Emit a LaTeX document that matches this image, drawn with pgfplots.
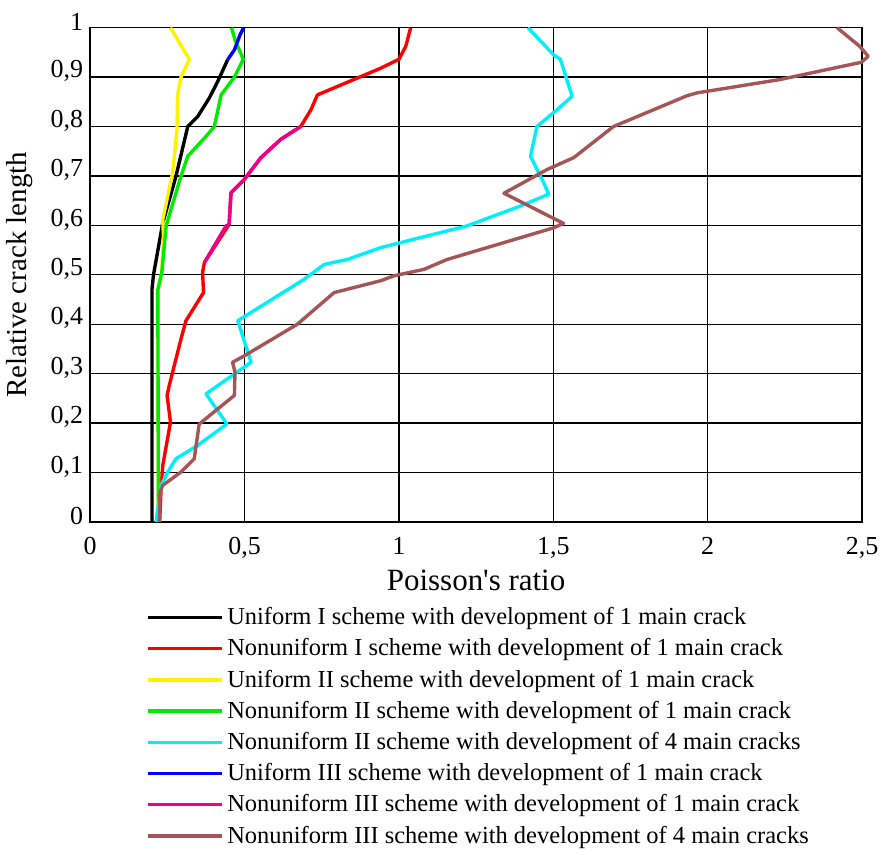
\documentclass[border=0pt]{standalone}
\usepackage{pgfplots}
\pgfplotsset{compat=1.18}
\usepackage{fontspec}
\setmainfont{Liberation Serif}
\definecolor{mybrown}{RGB}{165,85,85}
\definecolor{mygreen}{RGB}{0,235,0}
\definecolor{mycyan}{RGB}{0,240,250}
\begin{document}
\begin{tikzpicture}
\begin{axis}[
  scale only axis,
  width=386.5pt, height=247.5pt,
  xmin=0, xmax=2.5, ymin=0, ymax=1,
  xtick={0,0.5,1,1.5,2,2.5},
  ytick={0,0.1,0.2,0.3,0.4,0.5,0.6,0.7,0.8,0.9,1},
  grid=major,
  grid style={black, line width=0.6pt},
  axis line style={black, line width=0.8pt},
  major tick length=0pt,
  clip=false,
  /pgf/number format/use comma,
  /pgf/number format/assume math mode=true,
  tick label style={font=\fontsize{13}{15}\selectfont},
  yticklabel style={yshift=3pt},
  xticklabel style={yshift=-4pt},
  xlabel={Poisson\textquotesingle s ratio},
  ylabel={Relative crack length},
  xlabel style={font=\fontsize{15.5}{17}\selectfont, yshift=1pt},
  ylabel style={font=\fontsize{14.5}{16}\selectfont, yshift=2pt},
  legend cell align=left,
  legend style={draw=none, fill=none, at={(rel axis cs:0.064,-0.156)}, anchor=north west,
    font=\fontsize{12.25}{14}\selectfont, row sep=1.5pt},
  legend image code/.code={\draw[#1, line width=1.7pt] (0pt,0pt) -- (32pt,0pt); \path (0pt,0pt) -- (37pt,0pt);},
  every axis plot/.append style={line width=1.7pt, line join=round},
]
\addplot[black] coordinates {(0.2,0) (0.2,0.47) (0.205,0.5) (0.235,0.605) (0.278,0.70) (0.316,0.80) (0.348,0.82) (0.386,0.858) (0.413,0.891) (0.445,0.935)};
\addlegendentry{Uniform I scheme with development of 1 main crack}
\addplot[red] coordinates {(0.225,0) (0.23,0.074) (0.235,0.114) (0.26,0.202) (0.249,0.256) (0.256,0.276) (0.294,0.37) (0.31,0.407) (0.367,0.464) (0.364,0.505) (0.37,0.525) (0.45,0.602) (0.456,0.666) (0.499,0.693) (0.553,0.737) (0.617,0.774) (0.682,0.80) (0.715,0.834) (0.736,0.864) (0.941,0.918) (1.0,0.936) (1.022,0.962) (1.038,1.0)};
\addlegendentry{Nonuniform I scheme with development of 1 main crack}
\addplot[yellow] coordinates {(0.221,0) (0.219,0.47) (0.232,0.505) (0.237,0.58) (0.235,0.612) (0.267,0.706) (0.281,0.794) (0.283,0.864) (0.294,0.90) (0.321,0.936) (0.26,1.0)};
\addlegendentry{Uniform II scheme with development of 1 main crack}
\addplot[mygreen] coordinates {(0.221,0) (0.219,0.47) (0.232,0.505) (0.246,0.599) (0.294,0.70) (0.316,0.74) (0.375,0.78) (0.402,0.80) (0.424,0.864) (0.467,0.90) (0.496,0.936) (0.469,0.975) (0.458,1.0)};
\addlegendentry{Nonuniform II scheme with development of 1 main crack}
\addplot[mycyan] coordinates {(0.213,0) (0.23,0.074) (0.251,0.101) (0.278,0.128) (0.348,0.155) (0.443,0.198) (0.375,0.259) (0.521,0.323) (0.478,0.407) (0.693,0.491) (0.758,0.521) (0.833,0.531) (0.941,0.555) (1.221,0.599) (1.393,0.639) (1.485,0.663) (1.469,0.686) (1.426,0.74) (1.447,0.80) (1.512,0.834) (1.561,0.861) (1.523,0.936) (1.501,0.945) (1.418,1.0)};
\addlegendentry{Nonuniform II scheme with development of 4 main cracks}
\addplot[blue] coordinates {(0.445,0.935) (0.467,0.955) (0.485,0.985) (0.497,1.0)};
\addlegendentry{Uniform III scheme with development of 1 main crack}
\addplot[magenta] coordinates {(0.37,0.525) (0.44,0.599) (0.45,0.602) (0.456,0.666) (0.499,0.693) (0.553,0.737) (0.617,0.774) (0.682,0.80)};
\addlegendentry{Nonuniform III scheme with development of 1 main crack}
\addplot[mybrown] coordinates {(0.224,0) (0.226,0.06) (0.235,0.074) (0.294,0.101) (0.337,0.128) (0.353,0.198) (0.467,0.256) (0.469,0.303) (0.461,0.323) (0.499,0.336) (0.671,0.40) (0.79,0.464) (0.941,0.488) (0.984,0.498) (1.081,0.511) (1.156,0.531) (1.501,0.595) (1.533,0.604) (1.34,0.665) (1.48,0.713) (1.566,0.737) (1.695,0.80) (1.932,0.862) (1.965,0.868) (2.234,0.895) (2.498,0.93) (2.52,0.942) (2.493,0.962) (2.419,1.0)};
\addlegendentry{Nonuniform III scheme with development of 4 main cracks}
\path (rel axis cs:-0.1151,-0.651) rectangle (rel axis cs:1.044,1.056);
\end{axis}
\end{tikzpicture}
\end{document}
